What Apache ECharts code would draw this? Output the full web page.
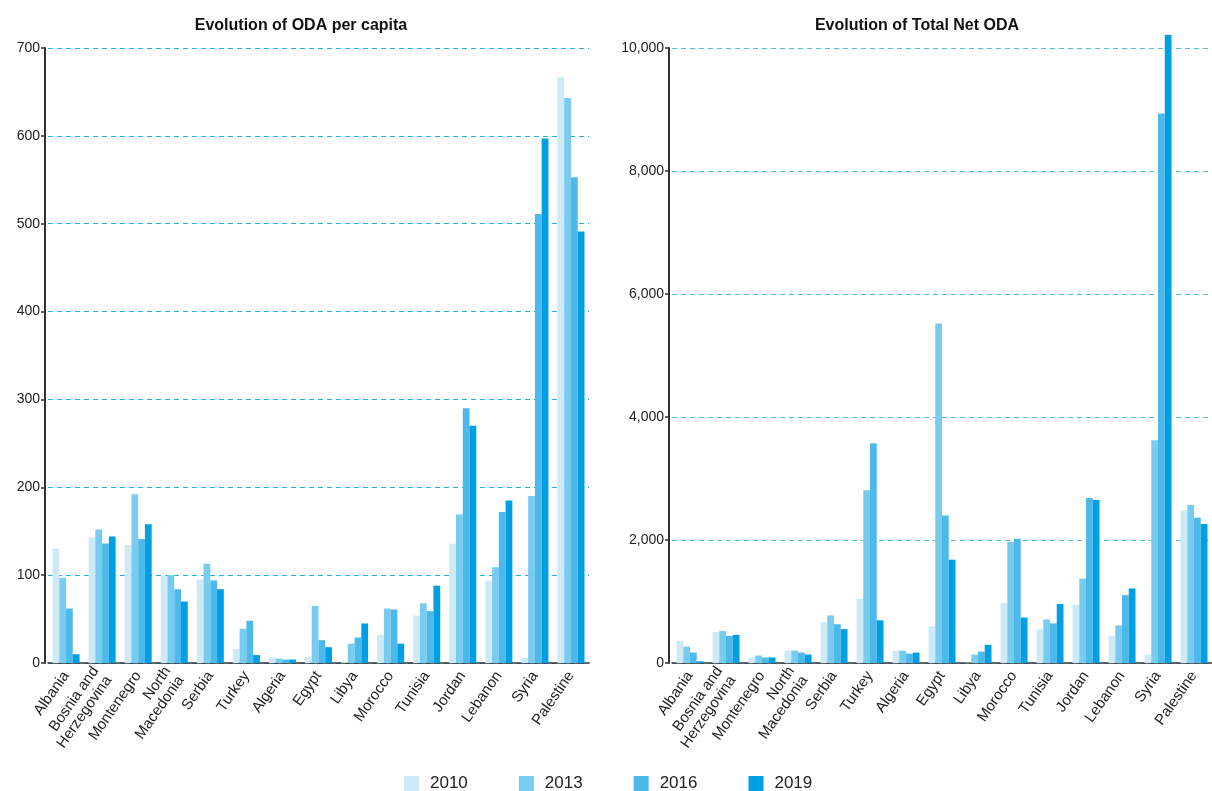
<!DOCTYPE html>
<html>
<head>
<meta charset="utf-8">
<script src="https://cdn.jsdelivr.net/npm/echarts@6/dist/echarts.min.js"></script>
<style>
html,body{margin:0;padding:0;background:#fff;}
#chart{width:1212px;height:791px;}
</style>
</head>
<body>
<div id="chart"></div>
<script>
const categories = ['Albania','Bosnia and\nHerzegovina','Montenegro','North\nMacedonia','Serbia','Turkey','Algeria','Egypt','Libya','Morocco','Tunisia','Jordan','Lebanon','Syria','Palestine'];
const years = ['2010','2013','2016','2019'];

const perCapita2010 = [130,143,134,99,95,16,6,7,1,32,54,136,94,6,667];
const perCapita2013 = [97,152,192,100,113,39,5,65,22,62,68,169,109,190,643];
const perCapita2016 = [62,136,141,84,94,48,4,26,29,61,59,290,172,511,553];
const perCapita2019 = [10,144,158,70,84,9,4,18,45,22,88,270,185,597,491];

const total2010 = [360,503,90,201,662,1043,200,596,5,975,549,945,438,138,2480];
const total2013 = [265,519,122,201,773,2810,200,5520,138,1970,707,1372,612,3620,2571];
const total2016 = [170,440,90,170,630,3575,153,2400,185,2020,644,2684,1103,8934,2360];
const total2019 = [27,455,90,138,551,694,169,1680,296,739,960,2652,1213,10210,2262];

const colors = ['#cdeaf8','#78ccf0','#4db9ea','#009fe3'];
const FONT = "'Liberation Sans', Arial, Helvetica, sans-serif";

const perCapita = [perCapita2010, perCapita2013, perCapita2016, perCapita2019];
const total = [total2010, total2013, total2016, total2019];

function yAxis(idx, max, interval, splitColor) {
  return {
    type: 'value', gridIndex: idx, min: 0, max: max, interval: interval, offset: 3,
    axisLine: {show: true, lineStyle: {color: '#333', width: 2}},
    axisTick: {show: true, length: 4, lineStyle: {color: '#333', width: 1.5}},
    axisLabel: {color: '#222', fontSize: 14, fontFamily: FONT, margin: 5},
    splitLine: {show: true, lineStyle: {color: splitColor, type: [5, 4], width: 1}}
  };
}
function xAxis(idx) {
  return {
    type: 'category', gridIndex: idx, data: categories,
    axisLine: {show: true, lineStyle: {color: '#333', width: 1.5}},
    axisTick: {show: false},
    axisLabel: {interval: 0, rotate: 55, color: '#222', fontSize: 15, fontFamily: FONT, margin: 10, lineHeight: 16}
  };
}

const series = [];
years.forEach((y, i) => {
  series.push({
    name: y, type: 'bar', xAxisIndex: 0, yAxisIndex: 0, data: perCapita[i],
    itemStyle: {color: colors[i]}, barGap: '0%', barCategoryGap: '25%', clip: false
  });
});
years.forEach((y, i) => {
  series.push({
    name: y, type: 'bar', xAxisIndex: 1, yAxisIndex: 1, data: total[i],
    itemStyle: {color: colors[i]}, barGap: '0%', barCategoryGap: '25%', clip: false
  });
});

const chart = echarts.init(document.getElementById('chart'), null, {renderer: 'canvas'});
chart.setOption({
  animation: false,
  backgroundColor: '#fff',
  textStyle: {fontFamily: FONT},
  title: [
    {text: 'Evolution of ODA per capita', left: 296, top: 13, textAlign: 'center',
     textStyle: {fontSize: 16, fontWeight: 'bold', color: '#111', fontFamily: FONT}},
    {text: 'Evolution of Total Net ODA', left: 912, top: 13, textAlign: 'center',
     textStyle: {fontSize: 16, fontWeight: 'bold', color: '#111', fontFamily: FONT}}
  ],
  legend: {
    data: years, left: 399, top: 770, itemWidth: 15, itemHeight: 15, itemGap: 51,
    icon: 'rect',
    textStyle: {fontSize: 17, color: '#222', fontFamily: FONT, padding: [0, 0, 0, 6]}
  },
  grid: [
    {left: 48, top: 48, width: 541, height: 615, containLabel: false},
    {left: 672, top: 48, width: 540, height: 615, containLabel: false}
  ],
  xAxis: [xAxis(0), xAxis(1)],
  yAxis: [yAxis(0, 700, 100, '#22b0ea'), yAxis(1, 10000, 2000, '#4fbbe9')],
  series: series
});
</script>
</body>
</html>
